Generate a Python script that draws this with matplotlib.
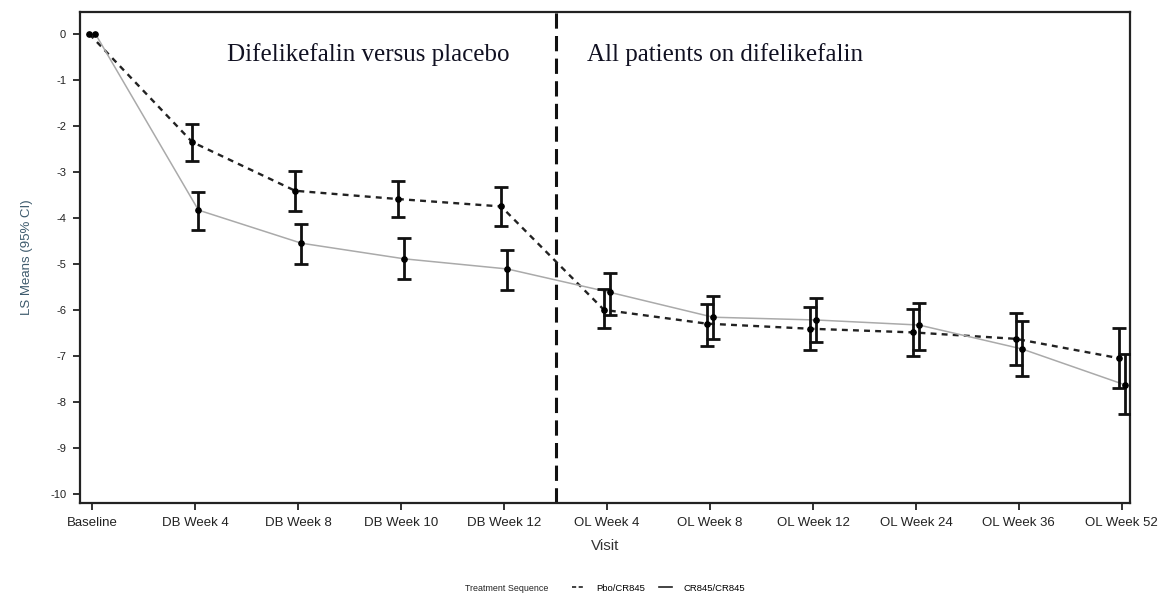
import matplotlib.pyplot as plt
import numpy as np
from matplotlib.lines import Line2D

## visits and LS means
visits = ["Baseline", "DB Week 4", "DB Week 8", "DB Week 10", "DB Week 12",
          "OL Week 4", "OL Week 8", "OL Week 12", "OL Week 24", "OL Week 36", "OL Week 52"]

# Pbo/CR845 (dashed)
pbo_mean = [0, -2.35, -3.41, -3.59, -3.75, -6.00, -6.30, -6.41, -6.49, -6.63, -7.05]
pbo_lo = [0, -2.76, -3.84, -3.97, -4.17, -6.40, -6.78, -6.87, -7.01, -7.20, -7.70]
pbo_hi = [0, -1.96, -2.99, -3.19, -3.33, -5.55, -5.88, -5.94, -5.99, -6.07, -6.40]

# CR845/CR845 (solid)
cr_mean = [0, -3.83, -4.55, -4.89, -5.11, -5.62, -6.16, -6.22, -6.33, -6.85, -7.63]
cr_lo = [0, -4.26, -5.00, -5.33, -5.57, -6.11, -6.64, -6.69, -6.87, -7.43, -8.26]
cr_hi = [0, -3.43, -4.13, -4.44, -4.70, -5.19, -5.70, -5.75, -5.84, -6.25, -6.96]

x = np.arange(len(visits))

fig = plt.figure(figsize=(11.65, 5.97), dpi=100)
ax = fig.add_axes([0.0687, 0.1575, 0.9013, 0.8225])

def draw_series(offset, mean, lo, hi, style):
    mean = np.array(mean)
    yerr = [mean - np.array(lo), np.array(hi) - mean]
    xs = x + offset
    if style == "dashed":
        ax.plot(xs, mean, color="#222222", lw=1.7, dashes=(2.5, 2.2), zorder=2)
    else:
        ax.plot(xs, mean, color="#aaaaaa", lw=1.1, zorder=2)
    ax.errorbar(xs[1:], mean[1:], yerr=[e[1:] for e in yerr], fmt="none",
                ecolor="#111111", elinewidth=2.0, capsize=5, capthick=2.0, zorder=3)
    ax.plot(xs, mean, "o", color="black", ms=3.8, zorder=4)

draw_series(-0.03, pbo_mean, pbo_lo, pbo_hi, "dashed")
draw_series(0.03, cr_mean, cr_lo, cr_hi, "solid")

# divider between double-blind and open-label phases
ax.axvline(4.5, color="#111111", lw=2.2, dashes=(5, 2.4), zorder=1)

ax.text(2.68, -0.44, "Difelikefalin versus placebo", family="Liberation Serif",
        fontsize=18, ha="center", va="center", color="#111122")
ax.text(6.15, -0.44, "All patients on difelikefalin", family="Liberation Serif",
        fontsize=18, ha="center", va="center", color="#111122")

ax.set_xlim(-0.12, 10.08)
ax.set_ylim(-10.2, 0.48)
ax.set_xticks(x)
ax.set_xticklabels(visits, family="Liberation Sans", fontsize=9.5, color="#222222")
ax.set_yticks(np.arange(0, -11, -1))
ax.set_yticklabels([str(v) for v in range(0, -11, -1)], family="Liberation Sans",
                   fontsize=8, color="#222222")
ax.tick_params(direction="out", length=5, width=1.3, color="#222222", pad=5)
for s in ax.spines.values():
    s.set_linewidth(1.6)
    s.set_color("#222222")

ax.set_xlabel("Visit", family="Liberation Sans", fontsize=11, color="#333333", labelpad=7)
ax.set_ylabel("LS Means (95% CI)", family="Liberation Sans", fontsize=9.5,
              color="#3d5a6c", labelpad=12)

## legend at the bottom
fig.text(0.471, 0.015, "Treatment Sequence", family="Liberation Sans", fontsize=6.4,
         color="#222222", ha="right", va="center")
handles = [Line2D([], [], color="#222222", lw=1.2, dashes=(2.5, 1.5)),
           Line2D([], [], color="#222222", lw=1.2)]
fig.legend(handles, ["Pbo/CR845", "CR845/CR845"], loc="center left",
           bbox_to_anchor=(0.491, 0.015), ncol=2, frameon=False, handlelength=1.4,
           handletextpad=1.2, columnspacing=1.4, borderpad=0, borderaxespad=0,
           prop={"family": "Liberation Sans", "size": 6.8})

plt.savefig("out.png", dpi=100)
